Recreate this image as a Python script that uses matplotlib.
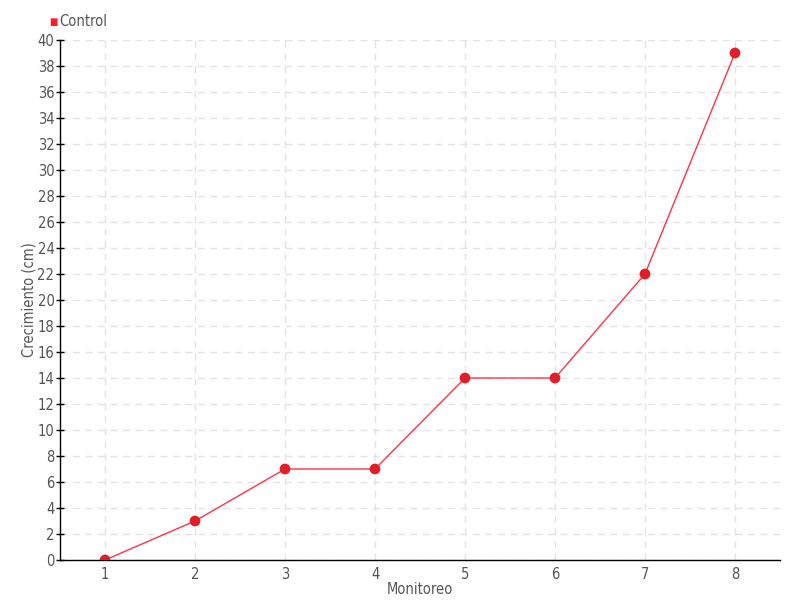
import matplotlib
matplotlib.use("Agg")
import matplotlib.pyplot as plt

plt.rcParams['font.family'] = ['DejaVu Sans']
plt.rcParams['font.stretch'] = 'condensed'

monitoreo = [1, 2, 3, 4, 5, 6, 7, 8]
crecimiento = [0, 3, 7, 7, 14, 14, 22, 39]
yticks = list(range(0, 41, 2))

fig = plt.figure(figsize=(8, 6), dpi=100)
ax = fig.add_axes([60/800, 40/600, 720/800, 520/600])

ax.plot(monitoreo, crecimiento, color='#ff3348', lw=1, zorder=3)
ax.scatter(monitoreo, crecimiento, s=60, color='#e01e2a', zorder=4, edgecolors='none')

ax.set_xlim(0.5, 8.5)
ax.set_ylim(0, 40)
ax.set_xticks(monitoreo)
ax.set_yticks(yticks)
ax.grid(True, color='#e3e3e3', linestyle=(0, (5, 4)), lw=1)
ax.set_axisbelow(True)

for s in ['top', 'right']:
    ax.spines[s].set_visible(False)
for s in ['left', 'bottom']:
    ax.spines[s].set_color('black')
    ax.spines[s].set_linewidth(1)

ax.tick_params(axis='y', direction='inout', length=6, width=1, colors='black', labelcolor='#555555', labelsize=10.5, pad=1)
ax.tick_params(axis='x', length=0, labelcolor='#555555', labelsize=10.5, pad=5)

ax.set_xlabel('Monitoreo', color='#555555', fontsize=10.5, labelpad=0)
ax.set_ylabel('Crecimiento (cm)', color='#555555', fontsize=10.5, labelpad=1)

fig.text(49/800, 1 - 22/600, '\u25a0', color='#ff1a2e', fontsize=7, va='center', ha='left')
fig.text(59/800, 1 - 22/600, 'Control', color='#555555', fontsize=10.5, va='center', ha='left')

fig.savefig('out.png', dpi=100)
